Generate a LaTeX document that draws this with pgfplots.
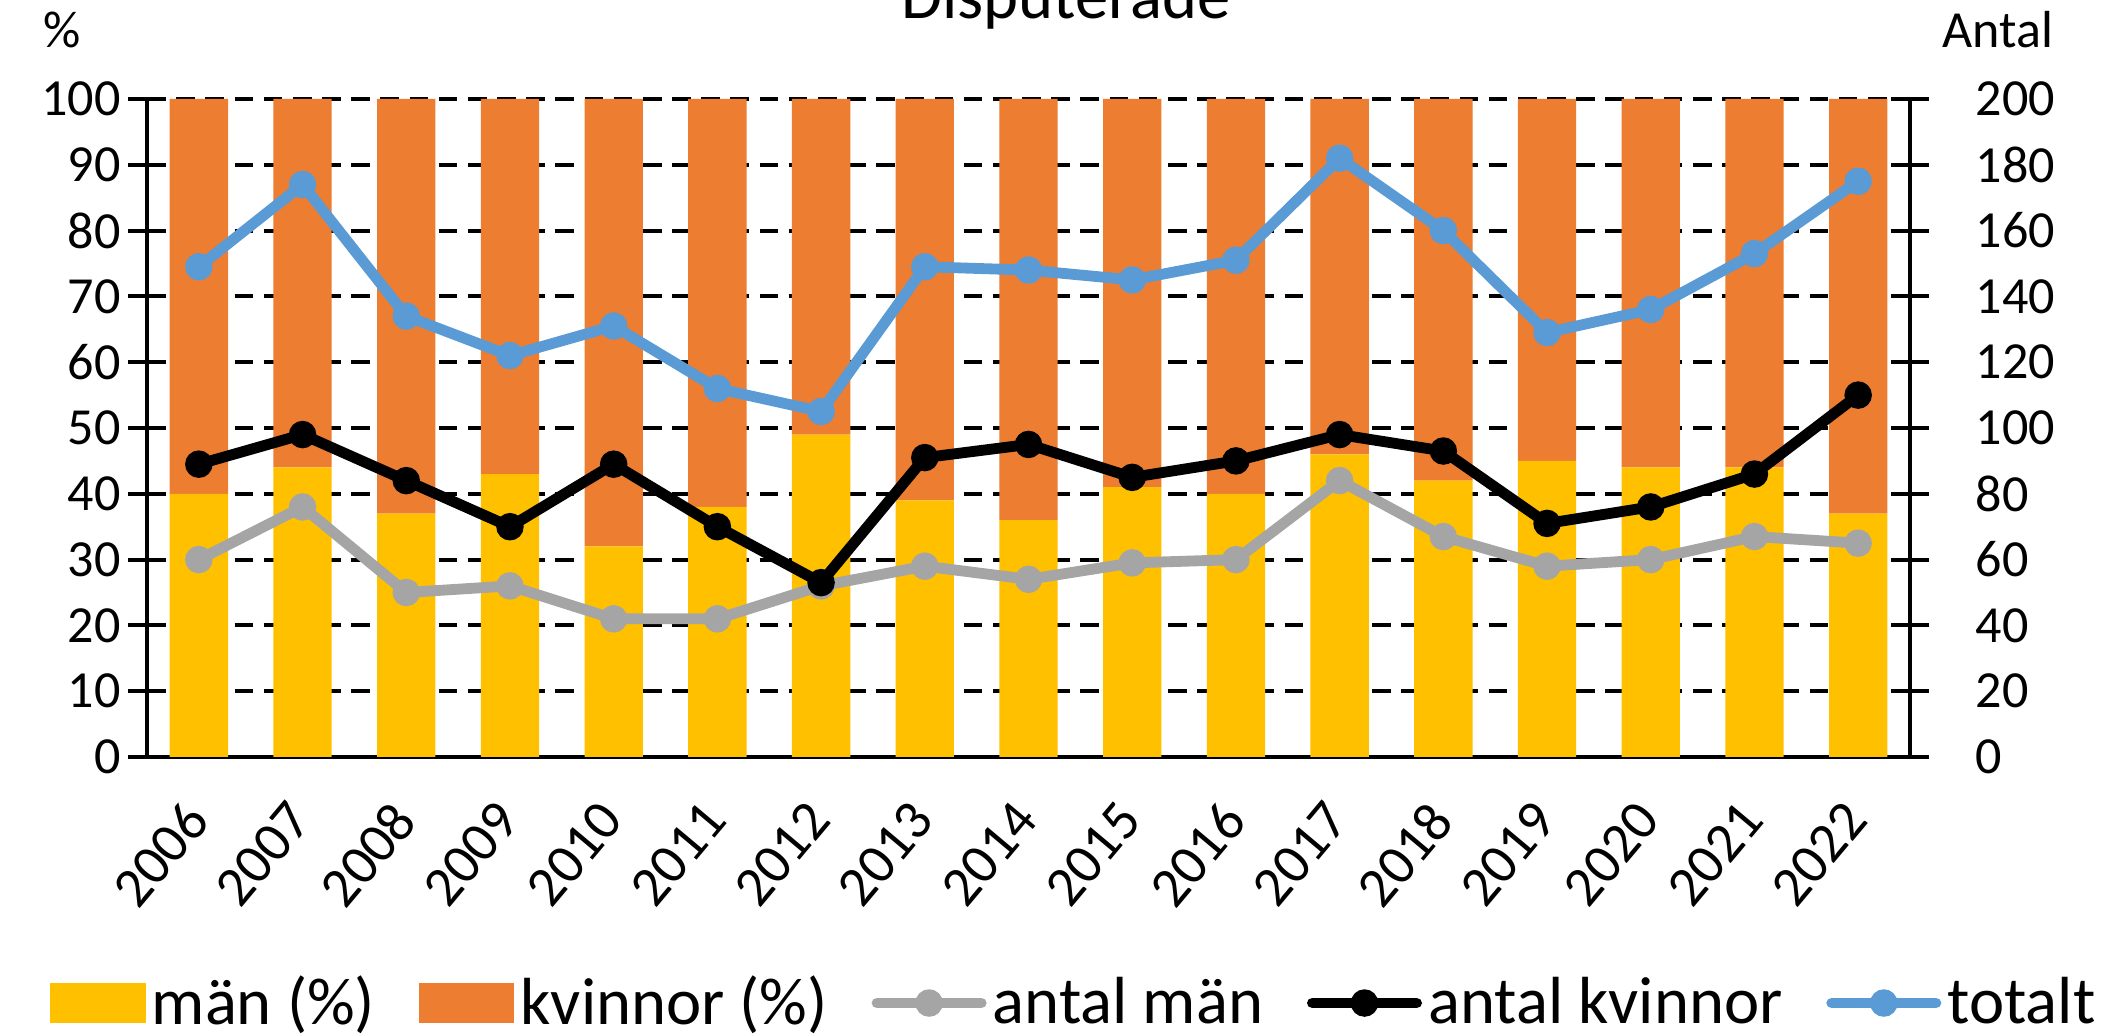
\documentclass[border=0pt]{standalone}
\usepackage{pgfplots}
\pgfplotsset{compat=1.18}
\usepackage{fontspec}
\setmainfont{Carlito}
\definecolor{cyel}{HTML}{FFC000}
\definecolor{cora}{HTML}{ED7D31}
\definecolor{cgray}{HTML}{A5A5A5}
\definecolor{cblue}{HTML}{5B9BD5}
\pgfplotsset{
  linelegend/.style={legend image code/.code={%
    \draw[mark repeat=2,mark phase=2,line cap=round,##1] plot coordinates {(0pt,0pt) (12.5pt,0pt) (25pt,0pt)};}},
  boxlegend/.style={legend image code/.code={%
    \fill[##1] (0pt,-4.7pt) rectangle (22.5pt,4.7pt);}},
  common/.style={
    at={(35.28pt,66.96pt)}, anchor=south west,
    scale only axis, width=423.12pt, height=157.92pt,
    xmin=-0.5, xmax=16.5,
    tick align=center, major tick length=9pt,
    tick style={black, line width=1pt},
    axis line style={black, line width=1pt},
    tick label style={font=\fontsize{12.5}{15}\selectfont},
    /pgf/number format/assume math mode=true,
  }
}
\begin{document}
\begin{tikzpicture}
\path[use as bounding box] (0pt,0pt) rectangle (508.32pt,248.64pt);
\begin{axis}[common,
  ymin=0, ymax=100, ytick={0,10,...,100},
  xtick={0,...,16},
  xticklabels={2006,2007,2008,2009,2010,2011,2012,2013,2014,2015,2016,2017,2018,2019,2020,2021,2022},
  axis y line*=left, axis x line*=bottom,
  xtick style={draw=none},
  ymajorgrids,
  major grid style={black, line width=1pt, dash pattern=on 4.5pt off 2.5pt},
  ybar stacked, bar width=14pt,
  yticklabel style={anchor=east, inner sep=0pt, xshift=-1.6pt},
  xticklabel style={xshift=-4pt, yshift=-5.2pt, rotate=50, anchor=north east, inner sep=0pt, font=\fontsize{13.5}{15}\selectfont},
]
\addplot[fill=cyel, draw=none] coordinates {
(0,40) (1,44) (2,37) (3,43) (4,32) (5,38) (6,49) (7,39) (8,36) (9,41) (10,40) (11,46) (12,42) (13,45) (14,44) (15,44) (16,37)};
\addplot[fill=cora, draw=none] coordinates {
(0,60) (1,56) (2,63) (3,57) (4,68) (5,62) (6,51) (7,61) (8,64) (9,59) (10,60) (11,54) (12,58) (13,55) (14,56) (15,56) (16,63)};
\end{axis}
\begin{axis}[common,
  ymin=0, ymax=200, ytick={0,20,...,200},
  axis y line*=right, axis x line=none,
  yticklabel style={anchor=west, inner sep=0pt, xshift=11.1pt},
  legend style={at={(0.5269,-0.3739)}, anchor=center, draw=none, inner sep=0pt,
    legend columns=5, font=\fontsize{16}{19}\selectfont,
    nodes={inner xsep=1.5pt, inner ysep=0pt},
    /tikz/every even column/.append style={column sep=9pt}},
  legend cell align=left,
]
\addlegendimage{boxlegend, cyel}
\addlegendentry{män (\%)}
\addlegendimage{boxlegend, cora}
\addlegendentry{kvinnor (\%)}
\addplot[linelegend, cgray, line width=2.6pt, line join=round, mark=*, mark size=3pt,
  mark options={solid, fill=cgray, draw=cgray, line width=0.6pt}] coordinates {
(0,60) (1,76) (2,50) (3,52) (4,42) (5,42) (6,52) (7,58) (8,54) (9,59) (10,60) (11,84) (12,67) (13,58) (14,60) (15,67) (16,65)};
\addlegendentry{antal män}
\addplot[linelegend, black, line width=2.6pt, line join=round, mark=*, mark size=3pt,
  mark options={solid, fill=black, draw=black, line width=0.6pt}] coordinates {
(0,89) (1,98) (2,84) (3,70) (4,89) (5,70) (6,53) (7,91) (8,95) (9,85) (10,90) (11,98) (12,93) (13,71) (14,76) (15,86) (16,110)};
\addlegendentry{antal kvinnor}
\addplot[linelegend, cblue, line width=2.6pt, line join=round, mark=*, mark size=3pt,
  mark options={solid, fill=cblue, draw=cblue, line width=0.6pt}] coordinates {
(0,149) (1,174) (2,134) (3,122) (4,131) (5,112) (6,105) (7,149) (8,148) (9,145) (10,151) (11,182) (12,160) (13,129) (14,136) (15,153) (16,175)};
\addlegendentry{totalt}
\end{axis}
\node[anchor=base] at (255.84pt,244.08pt) {\fontsize{16}{19}\selectfont Disputerade};
\node[anchor=base] at (14.88pt,237.12pt) {\fontsize{12.5}{15}\selectfont \%};
\node[anchor=base] at (479.52pt,237.12pt) {\fontsize{12.5}{15}\selectfont Antal};
\end{tikzpicture}
\end{document}
